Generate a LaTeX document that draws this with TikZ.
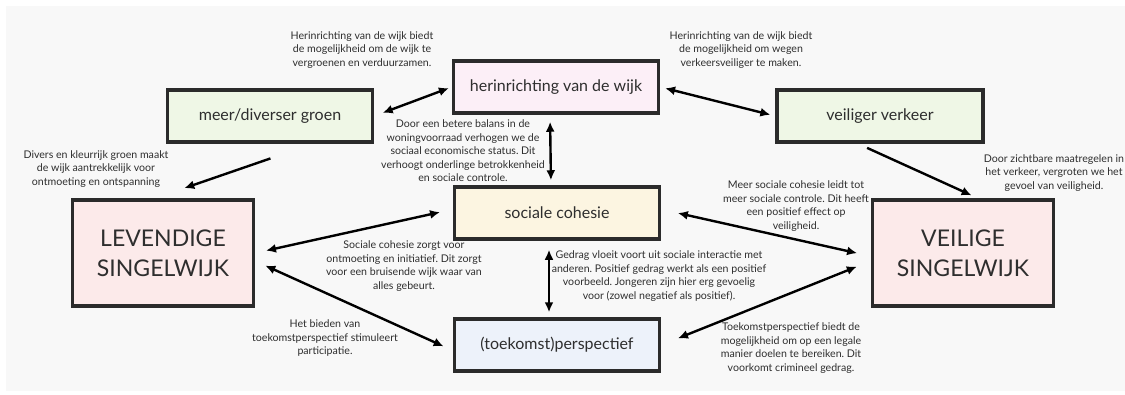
\documentclass[tikz,border=0pt]{standalone}
\usepackage{fontspec}
\setmainfont{Lato}
\frenchspacing
\usetikzlibrary{arrows.meta}
\definecolor{achtergrond}{HTML}{F8F8F8}
\definecolor{lijn}{HTML}{2B2B2B}
\definecolor{tekst}{HTML}{2E2E2E}
\definecolor{groen}{HTML}{EFF7E6}
\definecolor{roze}{HTML}{FCEFF7}
\definecolor{geel}{HTML}{FCF5E1}
\definecolor{blauw}{HTML}{EDF2FA}
\definecolor{rood}{HTML}{FCEAEA}
\tikzset{
  box/.style={draw=lijn, line width=3.5pt, minimum width=205pt, minimum height=52pt,
    inner sep=0pt, text=tekst, font=\fontsize{16}{19}\selectfont},
  bigbox/.style={box, fill=rood, minimum width=181pt, minimum height=106pt, align=center,
    font=\fontsize{23}{30}\selectfont},
  note/.style={align=center, text=tekst, inner sep=0pt, font=\fontsize{10.6}{13.5}\selectfont},
  arr/.style={draw=black, line width=2.4pt, -{Latex[length=10pt,width=9pt]}},
  dblarr/.style={arr, {Latex[length=10pt,width=9pt]}-{Latex[length=10pt,width=9pt]}}
}
\begin{document}
\begin{tikzpicture}[x=1pt,y=-1pt]
  \useasboundingbox (0,0) rectangle (1125,394);
  \fill[achtergrond] (6,6) rectangle (1125,391);

  \node[box, fill=groen] (groen) at (270,116) {meer/diverser groen};
  \node[box, fill=roze] (herin) at (556,87) {herinrichting van de wijk};
  \node[box, fill=groen, minimum width=206pt] (verkeer) at (880,116) {veiliger verkeer};
  \node[bigbox] (levendig) at (163,253) {LEVENDIGE\\SINGELWIJK};
  \node[box, fill=geel] (cohesie) at (557,213) {sociale cohesie};
  \node[box, fill=blauw] (toekomst) at (557,345) {(toekomst)perspectief};
  \node[bigbox] (veilig) at (963,253) {VEILIGE\\SINGELWIJK};

  \node[note] (n-groen) at (362,50) {Herinrichting van de wijk biedt\\de mogelijkheid om de wijk te\\vergroenen en verduurzamen.};
  \node[note] (n-verkeer) at (741,50) {Herinrichting van de wijk biedt\\de mogelijkheid om wegen\\verkeersveiliger te maken.};
  \node[note] (n-levendig) at (96,169) {Divers en kleurrijk groen maakt\\de wijk aantrekkelijk voor\\ontmoeting en ontspanning};
  \node[note] (n-woning) at (463,151) {Door een betere balans in de\\woningvoorraad verhogen we de\\sociaal economische status. Dit\\verhoogt onderlinge betrokkenheid\\en sociale controle.};
  \node[note] (n-veilig) at (1054,173) {Door zichtbare maatregelen in\\het verkeer, vergroten we het\\gevoel van veiligheid.};
  \node[note] (n-controle) at (796,206) {Meer sociale cohesie leidt tot\\meer sociale controle. Dit heeft\\een positief effect op\\veiligheid.};
  \node[note] (n-ontmoeting) at (404,266) {Sociale cohesie zorgt voor\\ontmoeting en initiatief. Dit zorgt\\voor een bruisende wijk waar van\\alles gebeurt.};
  \node[note] (n-gedrag) at (659,276) {Gedrag vloeit voort uit sociale interactie met\\anderen. Positief gedrag werkt als een positief\\voorbeeld. Jongeren zijn hier erg gevoelig\\voor (zowel negatief als positief).};
  \node[note] (n-participatie) at (325,338) {Het bieden van\\toekomstperspectief stimuleert\\participatie.};
  \node[note] (n-crimineel) at (791,348) {Toekomstperspectief biedt de\\mogelijkheid om op een legale\\manier doelen te bereiken. Dit\\voorkomt crimineel gedrag.};

  \draw[dblarr, shorten <=9pt, shorten >=3pt] (groen.east) -- (herin.west);
  \draw[dblarr, shorten <=5pt, shorten >=5pt] (herin.east) -- (verkeer.west);
  \draw[arr, shorten <=45pt, shorten >=31pt] ([xshift=43pt]groen.south) -- ([xshift=-8pt]levendig.north);
  \draw[dblarr, shorten <=7pt, shorten >=5pt] ([xshift=-6pt]herin.south) -- ([xshift=-6pt]cohesie.north);
  \draw[arr, shorten <=10pt, shorten >=7pt] ([xshift=-22pt]verkeer.south) -- ([xshift=15pt]veilig.north);
  \draw[dblarr, shorten <=11pt, shorten >=13pt] (levendig.east) -- (cohesie.178);
  \draw[dblarr, shorten <=17pt, shorten >=14pt] (cohesie.2) -- (veilig.182);
  \draw[dblarr, shorten <=9pt, shorten >=5pt] ([xshift=-8pt]cohesie.south) -- ([xshift=-8pt]toekomst.north);
  \draw[dblarr, shorten <=11pt, shorten >=10pt] (levendig.-5) -- (toekomst.183);
  \draw[dblarr, shorten <=18pt, shorten >=15pt] (toekomst.east) -- (veilig.185);
\end{tikzpicture}
\end{document}
